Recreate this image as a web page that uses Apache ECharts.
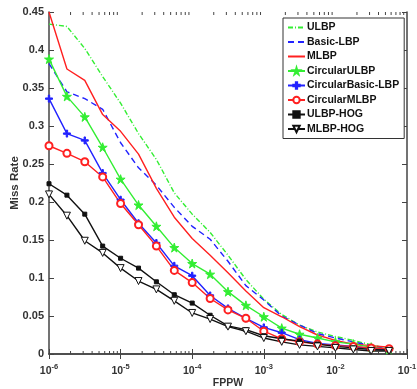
<!DOCTYPE html>
<html>
<head>
<meta charset="utf-8">
<script src="https://cdn.jsdelivr.net/npm/echarts@6/dist/echarts.min.js"></script>
<style>html,body{margin:0;padding:0;background:#fff}#c{width:417px;height:389px}</style>
</head>
<body>
<div id="c"></div>
<script>
// FPPW sample points: 10^-6 ... 10^-1.25 in quarter decades
const fppw = [1e-6, 1.78e-6, 3.16e-6, 5.62e-6, 1e-5, 1.78e-5, 3.16e-5, 5.62e-5, 1e-4, 1.78e-4,
  3.16e-4, 5.62e-4, 1e-3, 1.78e-3, 3.16e-3, 5.62e-3, 1e-2, 1.78e-2, 3.16e-2, 5.62e-2];
const ulbp        = [0.434, 0.431, 0.402, 0.365, 0.330, 0.290, 0.256, 0.212, 0.184, 0.160, 0.130, 0.098, 0.072, 0.052, 0.038, 0.029, 0.023, 0.018, 0.012, 0.007];
const basicLbp    = [0.382, 0.345, 0.336, 0.322, 0.278, 0.245, 0.222, 0.193, 0.168, 0.151, 0.122, 0.090, 0.071, 0.050, 0.038, 0.027, 0.021, 0.016, 0.011, 0.006];
const mlbp        = [0.450, 0.375, 0.360, 0.315, 0.293, 0.263, 0.218, 0.180, 0.152, 0.130, 0.107, 0.083, 0.061, 0.049, 0.036, 0.025, 0.018, 0.013, 0.011, 0.009];
const circUlbp    = [0.388, 0.339, 0.312, 0.272, 0.230, 0.196, 0.168, 0.140, 0.119, 0.105, 0.082, 0.064, 0.049, 0.034, 0.026, 0.021, 0.016, 0.013, 0.009, 0.006];
const circBasic   = [0.336, 0.290, 0.281, 0.238, 0.203, 0.172, 0.146, 0.116, 0.103, 0.077, 0.060, 0.047, 0.035, 0.028, 0.019, 0.014, 0.012, 0.010, 0.007, 0.006];
const circMlbp    = [0.274, 0.264, 0.253, 0.233, 0.198, 0.170, 0.142, 0.110, 0.094, 0.073, 0.058, 0.047, 0.030, 0.020, 0.016, 0.013, 0.011, 0.010, 0.008, 0.007];
const ulbpHog     = [0.224, 0.209, 0.184, 0.142, 0.126, 0.113, 0.095, 0.078, 0.067, 0.051, 0.037, 0.032, 0.024, 0.020, 0.017, 0.013, 0.010, 0.008, 0.006, 0.005];
const mlbpHog     = [0.210, 0.182, 0.149, 0.133, 0.113, 0.096, 0.085, 0.070, 0.054, 0.046, 0.036, 0.030, 0.021, 0.016, 0.012, 0.010, 0.008, 0.006, 0.004, 0.004];
const seriesNames = ['ULBP', 'Basic-LBP', 'MLBP', 'CircularULBP', 'CircularBasic-LBP', 'CircularMLBP', 'ULBP-HOG', 'MLBP-HOG'];
const plainLines = ['ULBP', 'Basic-LBP', 'MLBP'];
const xMin = 1e-6, xMax = 1e-1, yMin = 0, yMax = 0.45, yStep = 0.05;
const minorTicks = [];
for (let e = -6; e < -1; e++) for (let m = 2; m <= 9; m++) minorTicks.push(m * Math.pow(10, e));

const pair = ys => fppw.map((x, i) => [x, ys[i]]);
const font = 'Liberation Sans, Arial, sans-serif';
const axisColor = '#444';
const STAR = 'path://M50,0 L61,35 L98,35 L68,57 L79,91 L50,70 L21,91 L32,57 L2,35 L39,35 Z';
const PLUS = 'path://M4,0 L6,0 L6,4 L10,4 L10,6 L6,6 L6,10 L4,10 L4,6 L0,6 L0,4 L4,4 Z';
const TRI = 'path://M0,0 L10,0 L5,9 Z';

function line(name, ys, color, type, symbol, size, fill) {
  return {
    name, type: 'line', data: pair(ys), xAxisIndex: 0, yAxisIndex: 0,
    symbol: symbol || 'none', symbolSize: size || 1, showSymbol: !!symbol,
    lineStyle: { color, width: 1.4, type: type || 'solid' },
    itemStyle: { color: fill || color, borderColor: color, borderWidth: symbol ? 1 : 0 },
    emphasis: { disabled: true }, animation: false, z: 3
  };
}

const chart = echarts.init(document.getElementById('c'), null, { renderer: 'canvas' });
chart.setOption({
  backgroundColor: '#fff',
  animation: false,
  grid: { left: 49, right: 10, top: 12, bottom: 35, containLabel: false, outerBoundsMode: 'none' },
  legend: {
    data: seriesNames.map(n => plainLines.includes(n) ? { name: n, itemStyle: { opacity: 0 } } : n),
    orient: 'vertical', left: 283, top: 18,
    backgroundColor: '#fff', borderColor: '#333', borderWidth: 1,
    padding: [4, 5, 4, 4], itemWidth: 17, itemHeight: 8, itemGap: 3.5,
    textStyle: { fontFamily: font, fontWeight: 'bold', fontSize: 10.5, color: '#111', padding: [0, 0, 0, -3] }
  },
  xAxis: [{
    type: 'log', logBase: 10, min: xMin, max: xMax, interval: 1,
    name: 'FPPW', nameLocation: 'middle', nameGap: 24, nameMoveOverlap: false,
    nameTextStyle: { fontFamily: font, fontWeight: 'bold', fontSize: 10.5, color: '#333' },
    axisLine: { lineStyle: { color: axisColor, width: 1.5 } },
    axisTick: { inside: true, length: 5, lineStyle: { color: axisColor } },
    splitLine: { show: false },
    axisLabel: {
      margin: 9, color: '#333',
      formatter: v => '{b|10}{s|' + Math.round(Math.log10(v)) + '}',
      rich: {
        b: { fontFamily: font, fontWeight: 'bold', fontSize: 10.5, color: '#333', verticalAlign: 'bottom' },
        s: { fontFamily: font, fontWeight: 'bold', fontSize: 7.5, color: '#333', verticalAlign: 'bottom', padding: [0, 0, 6, 0] }
      }
    }
  }, {
    type: 'log', logBase: 10, min: xMin, max: xMax, interval: 1, position: 'top',
    axisLine: { lineStyle: { color: axisColor, width: 1.5 } },
    axisTick: { inside: true, length: 5, lineStyle: { color: axisColor } },
    axisLabel: { show: false }, splitLine: { show: false }
  }],
  yAxis: [{
    type: 'value', min: yMin, max: yMax, interval: yStep,
    name: 'Miss Rate', nameLocation: 'middle', nameGap: 28, nameMoveOverlap: false,
    nameTextStyle: { fontFamily: font, fontWeight: 'bold', fontSize: 11.5, color: '#333' },
    axisLine: { show: true, lineStyle: { color: axisColor, width: 1.5 } },
    axisTick: { show: true, inside: true, length: 5, lineStyle: { color: axisColor } },
    splitLine: { show: false },
    axisLabel: { margin: 5, fontFamily: font, fontWeight: 'bold', fontSize: 11, color: '#333' }
  }, {
    type: 'value', min: yMin, max: yMax, interval: yStep, position: 'right',
    axisLine: { show: true, lineStyle: { color: axisColor, width: 1.5 } },
    axisTick: { show: true, inside: true, length: 5, lineStyle: { color: axisColor } },
    axisLabel: { show: false }, splitLine: { show: false }
  }],
  series: [
    line('ULBP', ulbp, '#33ee33', [5, 2, 1, 2]),
    line('Basic-LBP', basicLbp, '#2222ff', [6, 4]),
    line('MLBP', mlbp, '#ff2020'),
    line('CircularULBP', circUlbp, '#33ee33', 'solid', STAR, 9),
    line('CircularBasic-LBP', circBasic, '#2222ff', 'solid', PLUS, 7),
    line('CircularMLBP', circMlbp, '#ff2020', 'solid', 'emptyCircle', 7),
    line('ULBP-HOG', ulbpHog, '#111', 'solid', 'rect', 4),
    line('MLBP-HOG', mlbpHog, '#111', 'solid', TRI, 7, '#fff'),
    {
      type: 'custom', name: 'minorTicks', silent: true, xAxisIndex: 0, yAxisIndex: 0, z: 4,
      data: minorTicks.map(v => [v]),
      renderItem: (params, api) => {
        const x = api.value(0);
        const b = api.coord([x, yMin]);
        const t = api.coord([x, yMax]);
        const st = { stroke: axisColor, lineWidth: 1 };
        return { type: 'group', children: [
          { type: 'line', shape: { x1: b[0], y1: b[1], x2: b[0], y2: b[1] - 3 }, style: st },
          { type: 'line', shape: { x1: t[0], y1: t[1], x2: t[0], y2: t[1] + 3 }, style: st }
        ] };
      }
    }
  ]
});
</script>
</body>
</html>
